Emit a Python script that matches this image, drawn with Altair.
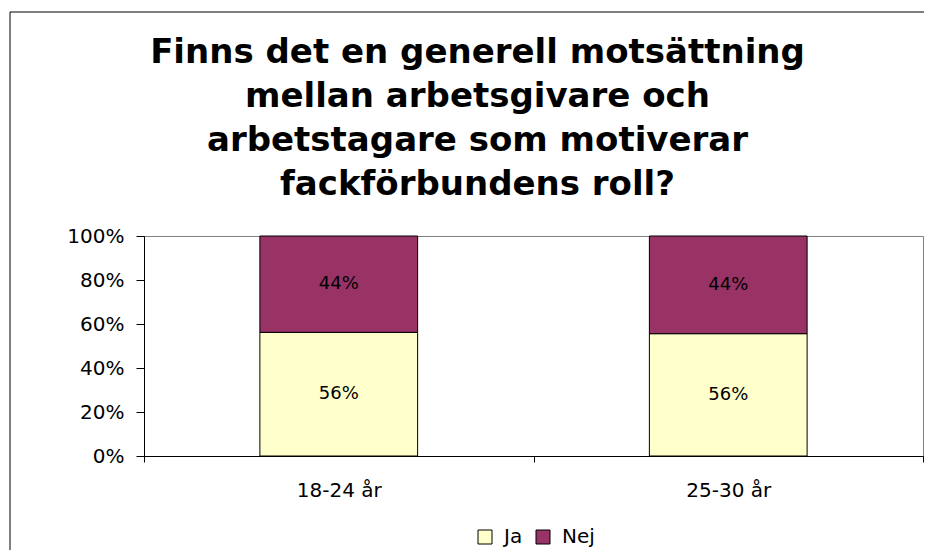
import altair as alt
import pandas as pd

categories = ["18-24 år", "25-30 år"]
series = ["Ja", "Nej"]
ja_values = [0.562, 0.556]
nej_values = [0.438, 0.444]
colors = ["#FFFFCC", "#993366"]
y_ticks = [0, 0.2, 0.4, 0.6, 0.8, 1.0]
title_lines = [
    "Finns det en generell motsättning",
    "mellan arbetsgivare och",
    "arbetstagare som motiverar",
    "fackförbundens roll?",
]

rows = []
for i, c in enumerate(categories):
    rows.append({"cat": c, "serie": "Ja", "ord": 0, "value": ja_values[i]})
    rows.append({"cat": c, "serie": "Nej", "ord": 1, "value": nej_values[i]})
df = pd.DataFrame(rows)

FONT = "DejaVu Sans"

x_enc = alt.X(
    "cat:N",
    sort=categories,
    scale=alt.Scale(paddingInner=0, paddingOuter=0),
    axis=alt.Axis(
        title=None,
        labelAngle=0,
        tickBand="extent",
        tickSize=6,
        labelPadding=18,
        labelFontSize=20,
        labelColor="black",
        domainColor="black",
        tickColor="black",
    ),
)

y_enc = alt.Y(
    "value:Q",
    stack="zero",
    scale=alt.Scale(domain=[0, 1], nice=False),
    axis=alt.Axis(
        title=None,
        values=y_ticks,
        format=".0%",
        grid=False,
        tickSize=8,
        labelPadding=12,
        labelFontSize=20,
        labelColor="black",
        domainColor="black",
        tickColor="black",
    ),
)

bars = alt.Chart(df).mark_bar(
    width=alt.RelativeBandSize(0.405), stroke="black", strokeWidth=1
).encode(
    x=x_enc,
    y=y_enc,
    color=alt.Color(
        "serie:N",
        scale=alt.Scale(domain=series, range=colors),
        legend=alt.Legend(
            title=None,
            orient="none",
            direction="horizontal",
            legendX=331,
            legendY=291,
            symbolType="square",
            symbolSize=196,
            symbolStrokeColor="black",
            symbolStrokeWidth=1,
            symbolOpacity=1,
            labelFontSize=20,
            labelColor="black",
            labelOffset=9,
            columnPadding=10,
            padding=0,
        ),
    ),
    order=alt.Order("ord:Q", sort="ascending"),
)

labels = alt.Chart(df).mark_text(fontSize=18, color="black", font=FONT).encode(
    x=alt.X("cat:N", sort=categories),
    y=alt.Y("value:Q", stack="zero", bandPosition=0.5),
    text=alt.Text("value:Q", format=".0%"),
    order=alt.Order("ord:Q", sort="ascending"),
)

frame_df = pd.DataFrame({"k": [0]})
frame_left = alt.Chart(frame_df).mark_rule(color="black", strokeWidth=1).encode(
    x=alt.value(-134), y=alt.value(-224), y2=alt.value(400)
)
frame_top = alt.Chart(frame_df).mark_rule(color="black", strokeWidth=1).encode(
    x=alt.value(-134), x2=alt.value(900), y=alt.value(-224)
)

chart = alt.layer(bars, labels, frame_left, frame_top).properties(
    width=779,
    height=220,
    autosize=alt.AutoSizeParams(type="none"),
    padding={"left": 136, "top": 228, "right": 1, "bottom": 94},
    title=alt.TitleParams(
        text=title_lines,
        font=FONT,
        fontSize=34,
        fontWeight="bold",
        lineHeight=44,
        anchor="middle",
        baseline="bottom",
        frame="group",
        dx=-56,
        offset=-224,
        color="black",
    ),
).configure(
    font=FONT,
    background="white",
).configure_view(
    stroke="#808080", strokeWidth=1
).configure_axis(
    labelFont=FONT
).configure_legend(
    labelFont=FONT
)

chart.save("out.html", embed_options={"renderer": "svg", "actions": False})
